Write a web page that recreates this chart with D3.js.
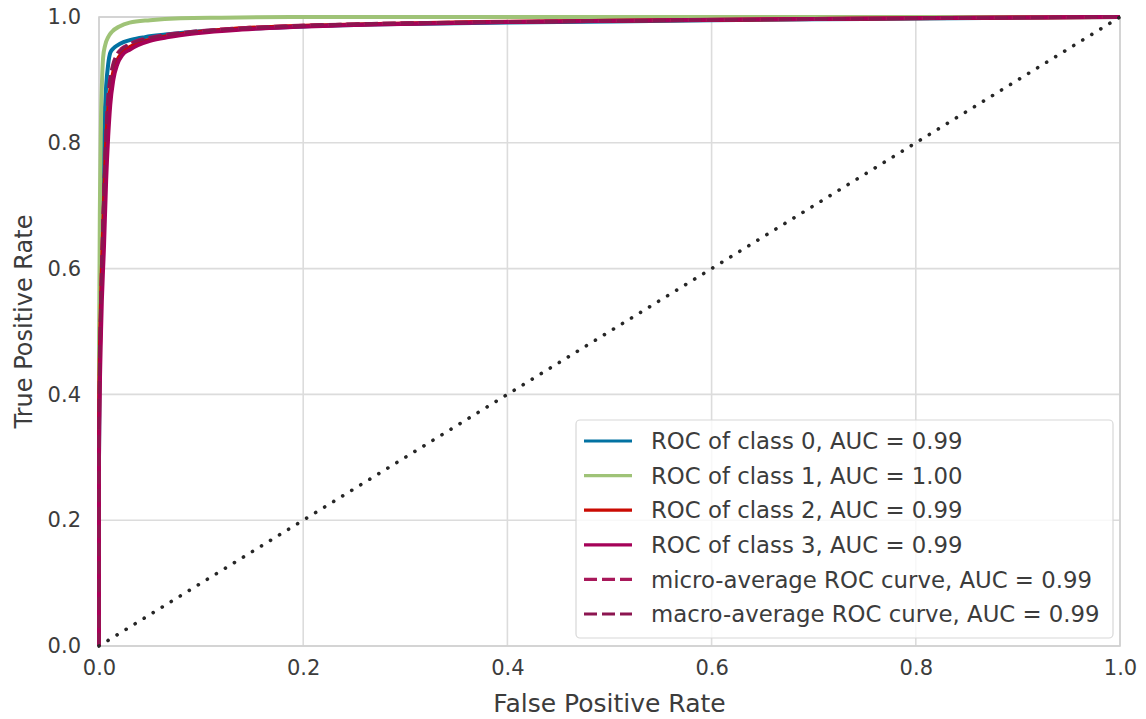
<!DOCTYPE html>
<html>
<head>
<meta charset="utf-8">
<script src="https://cdn.jsdelivr.net/npm/d3@7"></script>
<style>
  html, body { margin: 0; padding: 0; background: #fff; }
  svg { display: block; font-family: "DejaVu Sans", sans-serif; }
</style>
</head>
<body>
<svg id="chart" width="1146" height="719"></svg>
<script>
// ROC curves per class (false positive rate / true positive rate)
const class0Fpr = [0, 0, 0.001, 0.003, 0.005, 0.007, 0.009, 0.011, 0.014, 0.018, 0.024, 0.032, 0.045, 0.065, 0.09, 0.13, 0.2, 0.3, 0.45, 0.6, 0.75, 0.9, 1.0];
const class0Tpr = [0, 0.30, 0.52, 0.70, 0.82, 0.89, 0.925, 0.943, 0.950, 0.955, 0.960, 0.964, 0.968, 0.972, 0.976, 0.980, 0.985, 0.989, 0.992, 0.995, 0.997, 0.999, 1.0];

const class1Fpr = [0, 0, 0.001, 0.002, 0.003, 0.004, 0.006, 0.009, 0.013, 0.02, 0.03, 0.05, 0.08, 0.12, 0.2, 0.35, 1.0];
const class1Tpr = [0, 0.45, 0.72, 0.84, 0.90, 0.935, 0.955, 0.968, 0.977, 0.985, 0.991, 0.995, 0.998, 0.999, 1.0, 1.0, 1.0];

const class2Fpr = [0, 0, 0.002, 0.004, 0.006, 0.008, 0.010, 0.013, 0.017, 0.022, 0.028, 0.036, 0.048, 0.065, 0.09, 0.13, 0.18, 0.25, 0.37, 0.5, 0.65, 0.8, 1.0];
const class2Tpr = [0, 0.35, 0.55, 0.66, 0.76, 0.83, 0.87, 0.905, 0.928, 0.942, 0.950, 0.957, 0.963, 0.969, 0.975, 0.981, 0.985, 0.988, 0.992, 0.994, 0.996, 0.998, 1.0];

const class3Fpr = [0, 0, 0.002, 0.005, 0.007, 0.009, 0.011, 0.014, 0.018, 0.023, 0.030, 0.038, 0.050, 0.068, 0.095, 0.14, 0.19, 0.27, 0.4, 0.55, 0.7, 0.85, 1.0];
const class3Tpr = [0, 0.30, 0.50, 0.64, 0.74, 0.81, 0.86, 0.90, 0.925, 0.940, 0.948, 0.955, 0.962, 0.968, 0.974, 0.980, 0.984, 0.988, 0.992, 0.995, 0.997, 0.999, 1.0];

const microFpr = [0, 0, 0.002, 0.004, 0.006, 0.008, 0.010, 0.013, 0.017, 0.022, 0.028, 0.036, 0.048, 0.065, 0.09, 0.13, 0.18, 0.25, 0.37, 0.5, 0.65, 0.8, 1.0];
const microTpr = [0, 0.36, 0.57, 0.69, 0.79, 0.86, 0.895, 0.922, 0.940, 0.950, 0.956, 0.962, 0.967, 0.972, 0.977, 0.982, 0.986, 0.989, 0.992, 0.994, 0.996, 0.998, 1.0];

const macroFpr = [0, 0, 0.002, 0.004, 0.006, 0.008, 0.010, 0.013, 0.017, 0.022, 0.028, 0.036, 0.048, 0.065, 0.09, 0.13, 0.18, 0.25, 0.37, 0.5, 0.65, 0.8, 1.0];
const macroTpr = [0, 0.35, 0.56, 0.68, 0.78, 0.85, 0.89, 0.918, 0.937, 0.948, 0.955, 0.961, 0.966, 0.971, 0.976, 0.981, 0.985, 0.989, 0.992, 0.994, 0.996, 0.998, 1.0];

const seriesNames = [
  "ROC of class 0, AUC = 0.99",
  "ROC of class 1, AUC = 1.00",
  "ROC of class 2, AUC = 0.99",
  "ROC of class 3, AUC = 0.99",
  "micro-average ROC curve, AUC = 0.99",
  "macro-average ROC curve, AUC = 0.99"
];

const tickValues = [0, 0.2, 0.4, 0.6, 0.8, 1.0];
const diagonal = [[0, 0], [1, 1]];

const seriesColors = ["#0272a2", "#9fc377", "#ca0b03", "#a50258", "#a8185a", "#8c1550"];

const series = [
  { fpr: class0Fpr, tpr: class0Tpr, dashed: false },
  { fpr: class1Fpr, tpr: class1Tpr, dashed: false },
  { fpr: class2Fpr, tpr: class2Tpr, dashed: false },
  { fpr: class3Fpr, tpr: class3Tpr, dashed: false },
  { fpr: microFpr, tpr: microTpr, dashed: true },
  { fpr: macroFpr, tpr: macroTpr, dashed: true }
].map((s, i) => ({ ...s, name: seriesNames[i], color: seriesColors[i],
  points: s.fpr.map((f, j) => [f, s.tpr[j]]) }));

const svg = d3.select("#chart");
const x = d3.scaleLinear().domain([0, 1]).range([99, 1120]);
const y = d3.scaleLinear().domain([0, 1]).range([646, 17]);

const gridColor = "#dcdcdc";
const textColor = "#3c3c3c";

// grid
const grid = svg.append("g");
grid.selectAll(".vg").data(tickValues).join("line")
  .attr("x1", d => x(d)).attr("x2", d => x(d))
  .attr("y1", y(0)).attr("y2", y(1))
  .attr("stroke", gridColor).attr("stroke-width", 1.6);
grid.selectAll(".hg").data(tickValues).join("line")
  .attr("x1", x(0)).attr("x2", x(1))
  .attr("y1", d => y(d)).attr("y2", d => y(d))
  .attr("stroke", gridColor).attr("stroke-width", 1.6);

// frame
svg.append("rect")
  .attr("x", x(0)).attr("y", y(1))
  .attr("width", x(1) - x(0)).attr("height", y(0) - y(1))
  .attr("fill", "none").attr("stroke", "#d0d0d0").attr("stroke-width", 1.6);

// axes (labels only)
const xAxis = svg.append("g").attr("transform", `translate(0,${y(0)})`)
  .call(d3.axisBottom(x).tickValues(tickValues).tickFormat(d3.format(".1f")).tickSize(0).tickPadding(14));
const yAxis = svg.append("g").attr("transform", `translate(${x(0)},0)`)
  .call(d3.axisLeft(y).tickValues(tickValues).tickFormat(d3.format(".1f")).tickSize(0).tickPadding(18));
[xAxis, yAxis].forEach(a => {
  a.select(".domain").remove();
  a.selectAll("text").attr("font-size", 21).attr("fill", textColor)
    .attr("font-family", "DejaVu Sans, sans-serif");
});

// axis titles
svg.append("text")
  .attr("x", (x(0) + x(1)) / 2).attr("y", 712)
  .attr("text-anchor", "middle").attr("font-size", 25).attr("fill", textColor)
  .text("False Positive Rate");
svg.append("text")
  .attr("transform", `translate(32,${(y(0) + y(1)) / 2 - 10}) rotate(-90)`)
  .attr("text-anchor", "middle").attr("font-size", 24).attr("fill", textColor)
  .text("True Positive Rate");

// curves
const dashPattern = "13 5";
const line = d3.line().x(d => x(d[0])).y(d => y(d[1])).curve(d3.curveMonotoneX);
const curves = svg.append("g");
series.forEach(s => {
  curves.append("path")
    .datum(s.points)
    .attr("d", line)
    .attr("fill", "none")
    .attr("stroke", s.color)
    .attr("stroke-width", s.dashed ? 3 : 4)
    .attr("stroke-dasharray", s.dashed ? dashPattern : null)
    .attr("stroke-linejoin", "round");
});

// chance diagonal
svg.append("path")
  .datum(diagonal)
  .attr("d", d3.line().x(d => x(d[0])).y(d => y(d[1])))
  .attr("fill", "none")
  .attr("stroke", "#262626")
  .attr("stroke-width", 3.6)
  .attr("stroke-linecap", "round")
  .attr("stroke-dasharray", "0.1 10.5");

// legend
const lg = svg.append("g");
lg.append("rect")
  .attr("x", 576).attr("y", 420).attr("width", 537).attr("height", 218)
  .attr("rx", 4).attr("fill", "#fff").attr("fill-opacity", 0.8)
  .attr("stroke", "#d8d8d8").attr("stroke-width", 1.2);
const rowY = i => 441 + i * 34.6;
series.forEach((s, i) => {
  lg.append("line")
    .attr("x1", 584).attr("x2", 632)
    .attr("y1", rowY(i)).attr("y2", rowY(i))
    .attr("stroke", s.color).attr("stroke-width", 3.2)
    .attr("stroke-dasharray", s.dashed ? dashPattern : null);
  lg.append("text")
    .attr("x", 651).attr("y", rowY(i)).attr("dy", "0.36em")
    .attr("font-size", 22.8).attr("fill", textColor)
    .text(s.name);
});
</script>
</body>
</html>
